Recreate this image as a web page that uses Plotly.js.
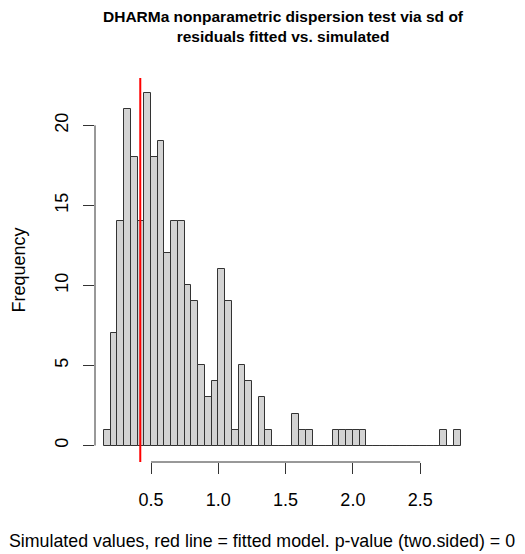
<!DOCTYPE html>
<html>
<head>
<meta charset="utf-8">
<script src="https://cdn.plot.ly/plotly-3.0.1.min.js"></script>
<style>html,body{margin:0;padding:0;background:#fff;}#chart{width:525px;height:554px;}</style>
</head>
<body>
<div id="chart"></div>
<script>
// Histogram bins (left edges) of simulated dispersion values, width 0.05
var binStart = [0.15,0.20,0.25,0.30,0.35,0.40,0.45,0.50,0.55,0.60,0.65,0.70,0.75,0.80,0.85,0.90,0.95,1.00,1.05,1.10,1.15,1.20,1.25,1.30,1.35,1.40,1.45,1.50,1.55,1.60,1.65,1.70,1.75,1.80,1.85,1.90,1.95,2.00,2.05,2.10,2.15,2.20,2.25,2.30,2.35,2.40,2.45,2.50,2.55,2.60,2.65,2.70,2.75];
var counts   = [1,7,14,21,18,14,22,18,19,12,14,14,10,9,5,3,4,11,9,1,5,4,0,3,1,0,0,0,2,1,1,0,0,0,1,1,1,1,1,0,0,0,0,0,0,0,0,0,0,0,1,0,1];
var binWidth = 0.05;
var observed = 0.42;
var xTicks = [0.5,1.0,1.5,2.0,2.5];
var xTickLabels = ["0.5","1.0","1.5","2.0","2.5"];
var yTicks = [0,5,10,15,20];
var yTickLabels = ["0","5","10","15","20"];

var centers = binStart.map(function(b){return b + binWidth/2;});
var font = "Liberation Sans, Arial, sans-serif";
var axCol = "#333333";
var fs = 18;

var trace = {
  type: "bar",
  x: centers,
  y: counts,
  width: binWidth,
  marker: {color: "#D3D3D3", line: {color: axCol, width: 1}},
  hoverinfo: "x+y"
};

var layout = {
  width: 525, height: 554,
  margin: {l: 95, r: 49, t: 78, b: 92, pad: 0},
  paper_bgcolor: "#ffffff", plot_bgcolor: "#ffffff",
  showlegend: false,
  bargap: 0,
  font: {family: font, size: fs, color: "#000000"},
  xaxis: {
    range: [0.0836, 2.915],
    tickmode: "array", tickvals: xTicks, ticktext: xTickLabels,
    ticks: "outside", ticklen: 11, tickwidth: 1, tickcolor: axCol,
    showline: false, showgrid: false, zeroline: false,
    tickfont: {family: font, size: fs, color: "#000000"},
    ticklabelstandoff: 10
  },
  yaxis: {
    range: [-1.03, 22.96],
    tickmode: "array", tickvals: yTicks, ticktext: yTickLabels,
    ticks: "outside", ticklen: 11, tickwidth: 1, tickcolor: axCol,
    tickangle: -90,
    showline: false, showgrid: false, zeroline: false,
    tickfont: {family: font, size: fs, color: "#000000"},
    ticklabelstandoff: 8,
    title: {text: "Frequency", font: {family: font, size: fs, color: "#000000"}, standoff: 21}
  },
  shapes: [
    {type: "line", xref: "x", yref: "paper", x0: xTicks[0], x1: xTicks[xTicks.length-1], y0: 0, y1: 0, line: {color: axCol, width: 1}},
    {type: "line", xref: "paper", yref: "y", x0: 0, x1: 0, y0: yTicks[0], y1: yTicks[yTicks.length-1], line: {color: axCol, width: 1}},
    {type: "line", xref: "x", yref: "paper", x0: observed, x1: observed, y0: 0, y1: 1, line: {color: "#FF0000", width: 2}}
  ],
  annotations: [
    {text: "<b>DHARMa nonparametric dispersion test via sd of<br>residuals fitted vs. simulated</b>",
     xref: "paper", yref: "paper", x: 0.495, y: 1.135, xanchor: "center", yanchor: "middle",
     showarrow: false, font: {family: font, size: 15.5, color: "#000000"}},
    {text: "Simulated values, red line = fitted model. p-value (two.sided) = 0",
     xref: "paper", yref: "paper", x: 0.438, y: -0.205, xanchor: "center", yanchor: "middle",
     showarrow: false, font: {family: font, size: 17.8, color: "#000000"}}
  ]
};

Plotly.newPlot("chart", [trace], layout, {displayModeBar: false, responsive: false});
</script>
</body>
</html>
